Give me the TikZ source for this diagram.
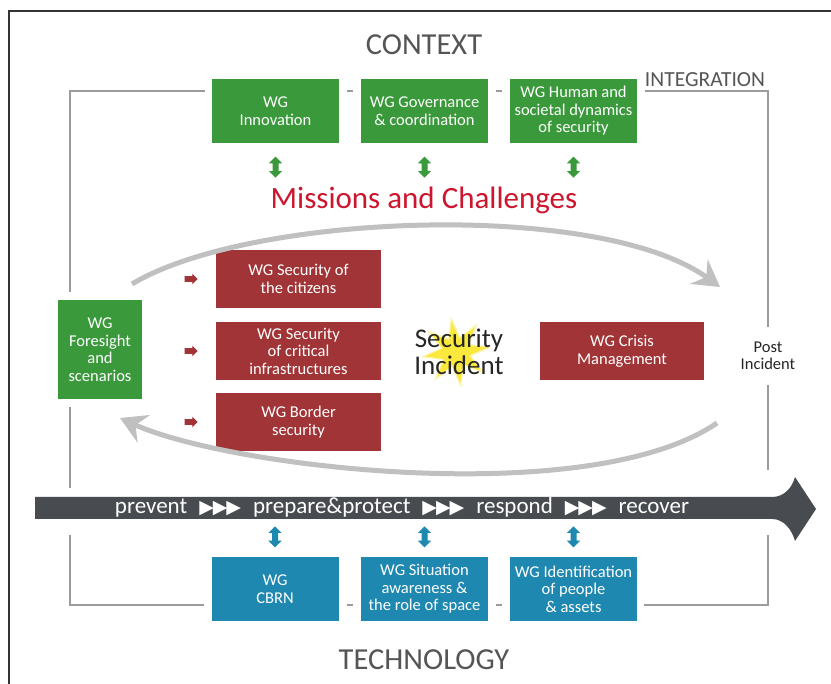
\documentclass[tikz,border=0pt]{standalone}
\usepackage{fontspec}
\setmainfont{Carlito}
\newfontfamily\symfont{DejaVu Sans}
\usetikzlibrary{arrows.meta,shapes.geometric,shapes.arrows}
\definecolor{wgGreen}{RGB}{58,153,58}
\definecolor{wgRed}{RGB}{160,52,54}
\definecolor{wgBlue}{RGB}{30,136,176}
\definecolor{bandGrey}{RGB}{72,76,80}
\definecolor{frameGrey}{RGB}{155,155,155}
\definecolor{swirlGrey}{RGB}{192,192,192}
\definecolor{missionRed}{RGB}{205,22,45}
\definecolor{headGrey}{RGB}{85,85,85}
\definecolor{flashYellow}{RGB}{250,232,60}
\newcommand{\boxfont}{\fontsize{16.5}{17.5}\selectfont}
\newcommand{\titlefont}{\fontsize{30.5}{32}\selectfont}
\newcommand{\phasefont}{\fontsize{23}{24}\selectfont}
\newcommand{\phasestep}{\hspace{12pt}{\symfont\fontsize{19}{19}\selectfont ▶\kern-1pt▶\kern-1pt▶}\hspace{12pt}}
\tikzset{
    every node/.append style={align=center},
    wgbox/.style={rectangle,inner sep=0pt,text=white,font=\boxfont,
        minimum width=127pt,minimum height=64pt},
    greenbox/.style={wgbox,fill=wgGreen},
    bluebox/.style={wgbox,fill=wgBlue},
    redbox/.style={wgbox,fill=wgRed,minimum width=165pt,minimum height=58pt},
    heading/.style={font=\titlefont,text=headGrey,anchor=base,inner sep=0pt},
    frame/.style={draw=frameGrey,line width=2.5pt},
    pageline/.style={draw=black!80,line width=1.6pt},
    swirl/.style={draw=swirlGrey,line width=5pt,
        -{Stealth[length=26pt,width=30pt,inset=9pt]}},
    duo/.style={double arrow,rotate=90,inner xsep=0pt,inner ysep=2.8pt,minimum height=21pt,
        double arrow head extend=3.6pt},
    pointer/.style={single arrow,fill=wgRed,inner xsep=0pt,inner ysep=2.6pt,minimum height=13pt,
        single arrow head extend=2.6pt}
}
\begin{document}
\begin{tikzpicture}[x=1pt,y=-1pt]
    \useasboundingbox[fill=white] (0,0) rectangle (831,684);
    \draw[pageline] (831,11) -- (9,11) -- (9,684);

    % corners of the integration frame
    \coordinate (tl) at (70,91);
    \coordinate (tr) at (768,91);
    \coordinate (bl) at (70,605);
    \coordinate (br) at (768,605);
    \coordinate (bandtop) at (35,497);
    \coordinate (bandbot) at (35,519);

    % context working groups
    \node[greenbox] (innov) at (275.5,111) {WG\\Innovation};
    \node[greenbox] (gov)   at (424.5,111) {WG Governance\\\& coordination};
    \node[greenbox] (human) at (573.5,111) {WG Human and\\societal dynamics\\of security};
    \node[greenbox,minimum width=84pt,minimum height=99pt] (foresight) at (100,349.5)
        {WG\\Foresight\\and\\scenarios};

    % missions
    \node[redbox] (citizens) at (298.5,279) {WG Security of\\the citizens};
    \node[redbox] (critical) at (298.5,351) {WG Security\\of critical\\infrastructures};
    \node[redbox] (border)   at (298.5,422) {WG Border\\security};
    \node[redbox,minimum width=164pt] (crisis) at (622,351) {WG Crisis\\Management};

    % technology working groups
    \node[bluebox] (cbrn)  at (275,589)   {WG\\CBRN};
    \node[bluebox] (situ)  at (424.5,589) {WG Situation\\awareness \&\\the role of space};
    \node[bluebox] (ident) at (573.5,589) {WG Identification\\of people\\\& assets};

    % headings
    \node[heading] (context) at (424,55) {CONTEXT};
    \node[heading] (tech) at (424,670) {TECHNOLOGY};
    \node[heading,font=\fontsize{21.5}{22}\selectfont] (integ) at (705,87) {INTEGRATION};
    \node[heading,text=missionRed,font=\fontsize{31}{32}\selectfont] (missions) at (424,209)
        {Missions and Challenges};
    \node[font=\boxfont,text=black!85,minimum height=58pt,inner sep=0pt] (postinc) at (768,356)
        {Post\\Incident};

    % integration frame
    \draw[frame,shorten <=7pt,shorten >=8pt] (innov.west |- tl) -- (tl) -- (tl |- foresight.north);
    \draw[frame,shorten <=8pt,shorten >=9pt] (tl |- foresight.south) -- (tl |- bandtop);
    \draw[frame,shorten <=16pt,shorten >=7pt] (tl |- bandbot) -- (bl) -- (cbrn.west |- bl);
    \draw[frame,shorten <=7pt,shorten >=16pt] (ident.east |- br) -- (br) -- (br |- bandbot);
    \draw[frame,shorten <=27pt] (br |- bandtop) -- (postinc.south);
    \draw[frame,shorten <=8pt] (human.east |- tr) -- (tr) -- (postinc.north);
    \foreach \a/\b in {innov/gov,gov/human}
        \draw[frame,shorten <=8pt,shorten >=8pt] (\a.east |- tl) -- (\b.west |- tl);
    \foreach \a/\b in {cbrn/situ,situ/ident}
        \draw[frame,shorten <=8pt,shorten >=8pt] (\a.east |- bl) -- (\b.west |- bl);

    % incident cycle
    \coordinate (cycA) at (132,284);
    \coordinate (cycB) at (720,287);
    \coordinate (cycC) at (717,423);
    \coordinate (cycD) at (120,418);
    \draw[swirl] (cycA) .. controls (250,213) and (600,200) .. (cycB);
    \draw[swirl] (cycC) .. controls (590,510) and (230,468) .. (cycD);

    \node[star,star points=8,star point ratio=2.3,fill=flashYellow!45,minimum size=72pt,
        inner sep=0pt,rotate=8] (glow) at (456,352) {};
    \node[star,star points=8,star point ratio=2.3,fill=flashYellow,minimum size=62pt,
        inner sep=0pt,rotate=8] (flash) at (456,352) {};
    \node[font=\fontsize{27}{27.5}\selectfont,text=black!85,inner sep=0pt] (incident) at (459,352)
        {Security\\Incident};

    % links to the missions and the phases
    \foreach \b in {innov,gov,human}
        \node[duo,fill=wgGreen] (up-\b) at ([yshift=-24pt]\b.south) {};
    \foreach \b in {cbrn,situ,ident}
        \node[duo,fill=wgBlue] (dn-\b) at ([yshift=20pt]\b.north) {};
    \foreach \b in {citizens,critical,border}
        \node[pointer] (to-\b) at ([xshift=-26pt]\b.west) {};

    % phases band
    \fill[bandGrey] (bandtop) -- (772,497) .. controls (784,497) and (792,488) .. (795,477)
        -- (816,509) -- (795,541) .. controls (792,530) and (784,519) .. (772,519) -- (bandbot) -- cycle;
    \node[text=white,font=\phasefont,inner sep=0pt] (phases) at (402,507)
        {prevent\phasestep prepare\&protect\phasestep respond\phasestep recover};
\end{tikzpicture}
\end{document}
